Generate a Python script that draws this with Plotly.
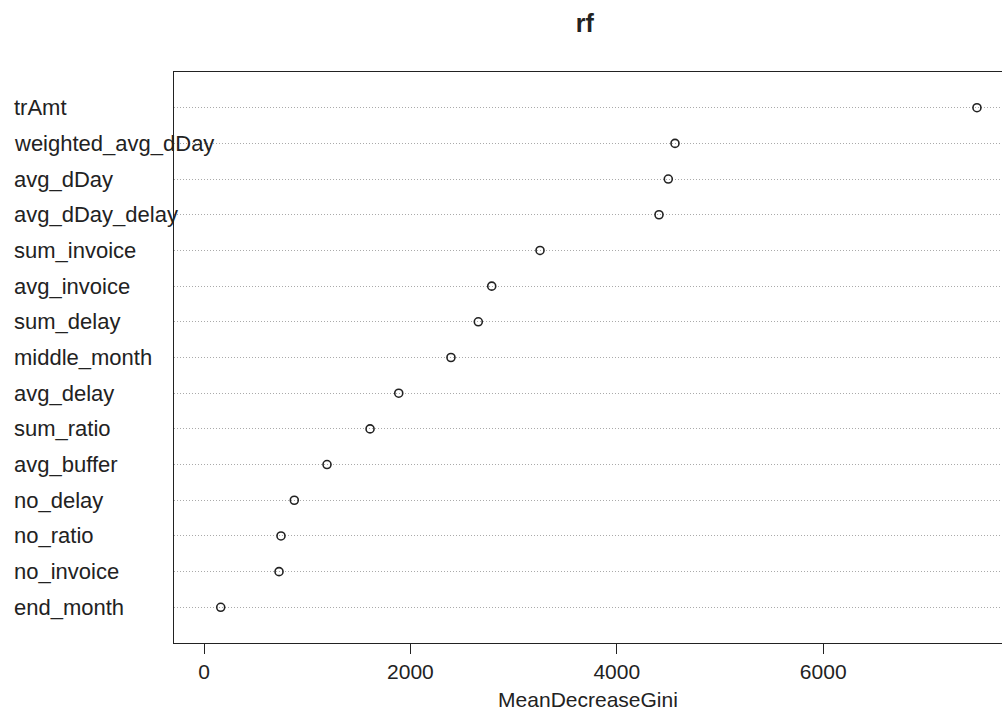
import plotly.graph_objects as go

# Variable importance (bottom to top, as drawn by R's dotchart)
features = ["end_month", "no_invoice", "no_ratio", "no_delay", "avg_buffer",
            "sum_ratio", "avg_delay", "middle_month", "sum_delay", "avg_invoice",
            "sum_invoice", "avg_dDay_delay", "avg_dDay", "weighted_avg_dDay", "trAmt"]
gini = [162, 727, 746, 875, 1192,
        1609, 1887, 2393, 2658, 2788,
        3256, 4409, 4499, 4564, 7490]
x_ticks = [0, 2000, 4000, 6000]
title_text = "rf"
x_title = "MeanDecreaseGini"

FONT = "Liberation Sans, Arial, Helvetica, sans-serif"
INK = "#222222"

W, H = 1002, 721
L, T, B = 174, 72, 78
PW = W - L

fig = go.Figure()
fig.add_trace(go.Scatter(
    x=gini, y=features, mode="markers",
    marker=dict(symbol="circle-open", size=8, color=INK, line=dict(width=1.6, color=INK)),
    showlegend=False, hoverinfo="x+y",
))

# left-aligned row labels, as in R's dotchart
for f in features:
    fig.add_annotation(x=(12 - L) / PW, xref="paper", y=f, yref="y", text=f,
                       showarrow=False, xanchor="left", yanchor="middle",
                       font=dict(family=FONT, size=22, color=INK))

fig.update_layout(
    width=W, height=H,
    margin=dict(l=L, r=0, t=T, b=B, pad=0),
    paper_bgcolor="white", plot_bgcolor="white",
    title=dict(text="<b>" + title_text + "</b>", x=0.496, xref="paper", xanchor="center",
               y=1 - 23 / H, yref="container", yanchor="middle",
               font=dict(family=FONT, size=25, color=INK)),
    xaxis=dict(range=[-290.7, 7732.6], tickvals=x_ticks, ticks="outside", ticklen=10,
               tickcolor=INK, tickwidth=1, showline=True, mirror=True, linecolor=INK, linewidth=1,
               showgrid=False, zeroline=False, ticklabelstandoff=0,
               tickfont=dict(family=FONT, size=21, color=INK),
               title=dict(text=x_title, standoff=10, font=dict(family=FONT, size=21, color=INK))),
    yaxis=dict(type="category", categoryorder="array", categoryarray=features,
               range=[-1, len(features)], showticklabels=False, ticks="",
               showline=True, mirror=False, linecolor=INK, linewidth=1,
               showgrid=True, gridcolor="#aaaaaa", gridwidth=1, griddash="1px,2px",
               zeroline=False),
)

fig.write_html("out.html",
               config={"displayModeBar": False},
               post_script="document.body.style.margin='0';document.body.style.overflow='hidden';")
